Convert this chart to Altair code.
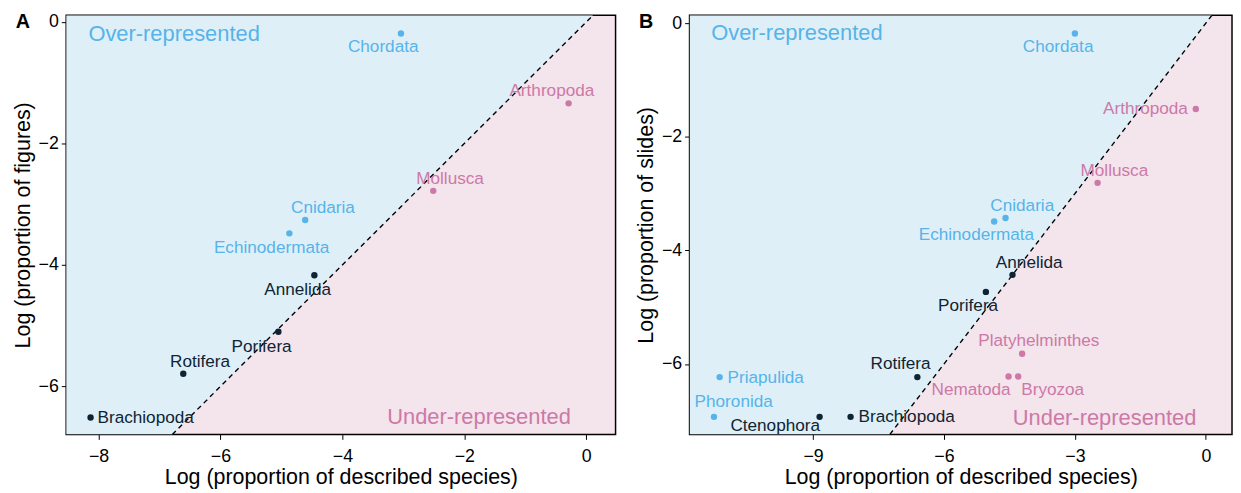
import altair as alt
import pandas as pd

FONT = "Liberation Sans"
BLUE = "#56B4E9"
PINK = "#CC79A7"
DARK = "#0E2433"
BG_BLUE = "#DFEFF8"
BG_PINK = "#F4E4EC"

# ---------------- data: panel A (figures) ----------------
A_phylum = ["Chordata", "Arthropoda", "Mollusca", "Cnidaria", "Echinodermata",
            "Annelida", "Porifera", "Rotifera", "Brachiopoda"]
A_species = [-3.04, -0.29, -2.51, -4.61, -4.87, -4.46, -5.05, -6.61, -8.13]
A_figures = [-0.19, -1.34, -2.78, -3.26, -3.48, -4.17, -5.10, -5.79, -6.51]
A_group = ["over", "under", "under", "over", "over", "even", "even", "even", "even"]

# ---------------- data: panel B (slides) ----------------
B_phylum = ["Chordata", "Arthropoda", "Mollusca", "Cnidaria", "Echinodermata",
            "Annelida", "Porifera", "Platyhelminthes", "Nematoda", "Bryozoa",
            "Rotifera", "Priapulida", "Phoronida", "Ctenophora", "Brachiopoda"]
B_species = [-3.00, -0.23, -2.48, -4.59, -4.85, -4.43, -5.04, -4.21, -4.52, -4.30,
             -6.61, -11.14, -11.27, -8.85, -8.14]
B_slides = [-0.18, -1.51, -2.81, -3.43, -3.49, -4.43, -4.73, -5.82, -6.22, -6.22,
            -6.23, -6.23, -6.93, -6.93, -6.93]
B_group = ["over", "under", "under", "over", "over", "even", "even", "under", "under",
           "under", "even", "over", "over", "even", "even"]

# axis domains and ticks
A_xdom = [-8.53, 0.48]
A_ydom = [-6.79, 0.11]
A_xticks = [-8, -6, -4, -2, 0]
A_yticks = [-6, -4, -2, 0]
B_xdom = [-11.83, 0.6]
B_ydom = [-7.24, 0.14]
B_xticks = [-9, -6, -3, 0]
B_yticks = [-6, -4, -2, 0]

# region annotations (data coordinates)
A_regions = {"Over-represented": (-6.76, -0.20), "Under-represented": (-1.76, -6.51)}
B_regions = {"Over-represented": (-9.37, -0.18), "Under-represented": (-2.32, -6.95)}

# label placement styles: (dx, dy, align)
A_label_style = {
    "Chordata": (-18, 14, "center"), "Arthropoda": (-17, -12, "center"),
    "Mollusca": (17, -12, "center"), "Cnidaria": (18, -12, "center"),
    "Echinodermata": (-18, 15, "center"), "Annelida": (-17, 15, "center"),
    "Porifera": (-17, 15, "center"), "Rotifera": (17, -12, "center"),
    "Brachiopoda": (7, 1, "left"),
}
B_label_style = {
    "Chordata": (-17, 14, "center"), "Arthropoda": (-8, 0, "right"),
    "Mollusca": (17, -12, "center"), "Cnidaria": (17, -12, "center"),
    "Echinodermata": (-18, 14, "center"), "Annelida": (17, -12, "center"),
    "Porifera": (-18, 14, "center"), "Platyhelminthes": (17, -13, "center"),
    "Nematoda": (-38, 14, "center"), "Bryozoa": (35, 14, "center"),
    "Rotifera": (-17, -13, "center"), "Priapulida": (8, 1, "left"),
    "Phoronida": (20, -15, "center"), "Ctenophora": (-45, 9, "center"),
    "Brachiopoda": (8, 0, "left"),
}

GROUPS = ["over", "under", "even"]
GROUP_COLORS = [BLUE, PINK, DARK]


def panel(phyla, xs, ys, groups, xdom, ydom, xticks, yticks, ytitle, letter,
          label_style, regions, width, height):
    df = pd.DataFrame({"phylum": phyla, "x": xs, "y": ys, "group": groups})
    xscale = alt.Scale(domain=xdom, nice=False, zero=False)
    yscale = alt.Scale(domain=ydom, nice=False, zero=False)
    xaxis = alt.Axis(values=xticks, title="Log (proportion of described species)")
    yaxis = alt.Axis(values=yticks, title=ytitle)

    def X(f="x"):
        return alt.X(f"{f}:Q", scale=xscale, axis=xaxis)

    def Y(f="y"):
        return alt.Y(f"{f}:Q", scale=yscale, axis=yaxis)

    # background: blue region above the identity line (pink is the view fill)
    bg = pd.DataFrame({
        "x": [xdom[0], ydom[0], ydom[1], xdom[1]],
        "y": [ydom[0], ydom[0], ydom[1], ydom[1]],
        "y2": [ydom[1]] * 4,
    })
    blue = alt.Chart(bg).mark_area(color=BG_BLUE, clip=True, opacity=1).encode(
        x=X(), y=Y(), y2="y2:Q")

    diag = pd.DataFrame({"x": [ydom[0], ydom[1]], "y": [ydom[0], ydom[1]]})
    line = alt.Chart(diag).mark_line(color="black", strokeDash=[5, 4], strokeWidth=1.4,
                                     clip=True).encode(x=X(), y=Y())

    color = alt.Color("group:N", scale=alt.Scale(domain=GROUPS, range=GROUP_COLORS),
                      legend=None)
    pts = alt.Chart(df).mark_circle(size=42, opacity=1).encode(x=X(), y=Y(), color=color)

    layers = [blue, line, pts]
    for name, (dx, dy, align) in label_style.items():
        layers.append(
            alt.Chart(df).transform_filter(alt.datum.phylum == name)
            .mark_text(dx=dx, dy=dy, align=align, baseline="middle", fontSize=17.4, font=FONT)
            .encode(x=X(), y=Y(), text="phylum:N", color=color)
        )

    reg = pd.DataFrame({
        "label": list(regions.keys()),
        "x": [v[0] for v in regions.values()],
        "y": [v[1] for v in regions.values()],
        "group": ["over", "under"],
    })
    layers.append(
        alt.Chart(reg).mark_text(fontSize=22.2, font=FONT, align="center", baseline="middle")
        .encode(x=X(), y=Y(), text="label:N", color=color)
    )

    lt = pd.DataFrame({"t": [letter]})
    layers.append(
        alt.Chart(lt).mark_text(fontSize=20, fontWeight="bold", font=FONT, align="center",
                                baseline="middle", color="black")
        .encode(x=alt.value(-44), y=alt.value(7), text="t:N")
    )

    return alt.layer(*layers).properties(width=width, height=height)


pA = panel(A_phylum, A_species, A_figures, A_group, A_xdom, A_ydom, A_xticks, A_yticks,
           "Log (proportion of figures)", "A", A_label_style, A_regions, 557, 425)
pB = panel(B_phylum, B_species, B_slides, B_group, B_xdom, B_ydom, B_xticks, B_yticks,
           "Log (proportion of slides)", "B", B_label_style, B_regions, 550, 425)

chart = (
    alt.hconcat(pA, pB, spacing=18)
    .properties(padding={"left": 3, "top": 0, "right": 0, "bottom": 0})
    .configure(font=FONT)
    .configure_view(fill=BG_PINK, stroke="black", strokeWidth=1.5)
    .configure_axis(
        grid=False, domain=False, tickSize=5, tickColor="black", tickWidth=1,
        labelFontSize=18, labelColor="black", labelFont=FONT, labelPadding=3,
        titleFontSize=21.7, titleFontWeight="normal", titleColor="black", titleFont=FONT,
    )
    .configure_axisY(titlePadding=4)
    .configure_axisX(titlePadding=2, labelPadding=8)
)

chart.save("out.html", embed_options={"renderer": "svg", "actions": False})
